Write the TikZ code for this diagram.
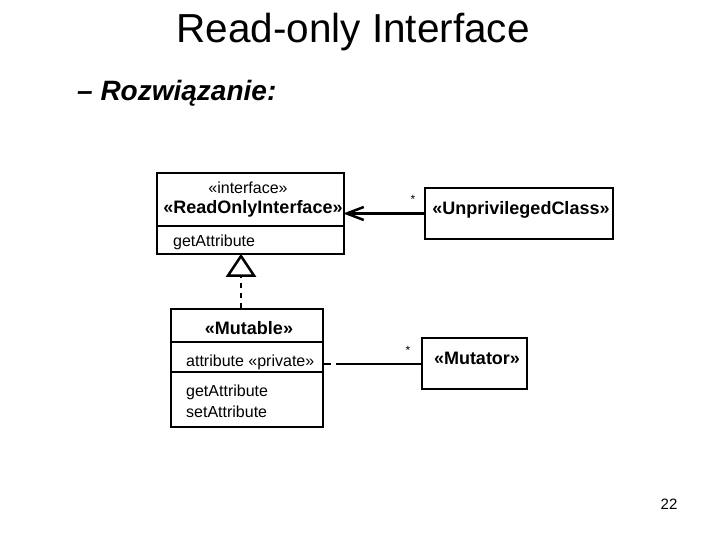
\documentclass[tikz,border=0pt]{standalone}
\usepackage{fontspec}
\setmainfont{Liberation Sans}
\usetikzlibrary{arrows.meta}
\begin{document}
\begin{tikzpicture}[x=1pt,y=-1pt,
  box/.style={draw=black,line width=2.5pt,inner sep=0pt,fill=white},
  txt/.style={inner sep=0pt,font=\fontsize{16}{19}\selectfont},
  btxt/.style={inner sep=0pt,font=\fontsize{18}{21}\selectfont\bfseries},
  star/.style={inner sep=0pt,font=\fontsize{12}{14}\selectfont},
  assoc/.style={line width=2.5pt},
  realize/.style={line width=1.5pt,dash pattern=on 5pt off 5pt}
]
\useasboundingbox (0,0) rectangle (720,540);
\fill[white] (0,0) rectangle (720,540);

% title
\node[inner sep=0pt,anchor=base,font=\fontsize{40.5}{46}\selectfont] (title) at (353,43) {Read-only Interface};
\node[inner sep=0pt,anchor=base west,font=\fontsize{28}{32}\selectfont\bfseries\itshape] (sub) at (77,101) {– Rozwiązanie:};

% ReadOnlyInterface
\node[box,minimum width=187pt,minimum height=53pt] (roih) at (250.5,199.5) {};
\node[box,minimum width=187pt,minimum height=28pt] (roio) at (250.5,240) {};
\node[txt] (roist) at (248,188) {«interface»};
\node[btxt] (roiname) at (253,209) {«ReadOnlyInterface»};
\node[txt,anchor=base west] (roiop) at (173,246) {getAttribute};

% UnprivilegedClass
\node[box,minimum width=188pt,minimum height=51pt] (unpriv) at (519,213.5) {};
\node[btxt] (unprivname) at (521,210) {«UnprivilegedClass»};

% Mutable
\node[box,minimum width=152pt,minimum height=33pt] (muth) at (247,325.5) {};
\node[box,minimum width=152pt,minimum height=30pt] (muta) at (247,357) {};
\node[box,minimum width=152pt,minimum height=55pt] (muto) at (247,399.5) {};
\node[btxt] (mutname) at (249,328) {«Mutable»};
\node[txt,anchor=base west] (mutattr) at (186,366) {attribute «private»};
\node[txt,anchor=base west] (mutop1) at (186,396) {getAttribute};
\node[txt,anchor=base west] (mutop2) at (186,417) {setAttribute};

% Mutator
\node[box,minimum width=105pt,minimum height=51pt] (mutator) at (474.5,363.5) {};
\node[btxt] (mutatorname) at (477,358) {«Mutator»};

% connectors
\draw[assoc,-{Straight Barb[length=17pt,width=13pt,line width=2.5pt]}] (unpriv.west) -- ([xshift=-2pt]unpriv.west -| roih.east);
\node[star] (s1) at (413,199) {*};

\coordinate (tri) at (241,0);
\draw[realize,-{Triangle[open,length=23pt,width=30pt,line width=2.5pt,fill=white]}] (muth.north -| tri) -- ([yshift=1.5pt]roio.south -| tri);

\draw[line width=2pt,dash pattern=on 7pt off 5pt on 300pt] (muta.east |- mutator.west) -- (mutator.west);
\node[star] (s2) at (408,350) {*};

% page number
\node[inner sep=0pt,anchor=base,font=\fontsize{15}{18}\selectfont] (page) at (669,509) {22};
\end{tikzpicture}
\end{document}
